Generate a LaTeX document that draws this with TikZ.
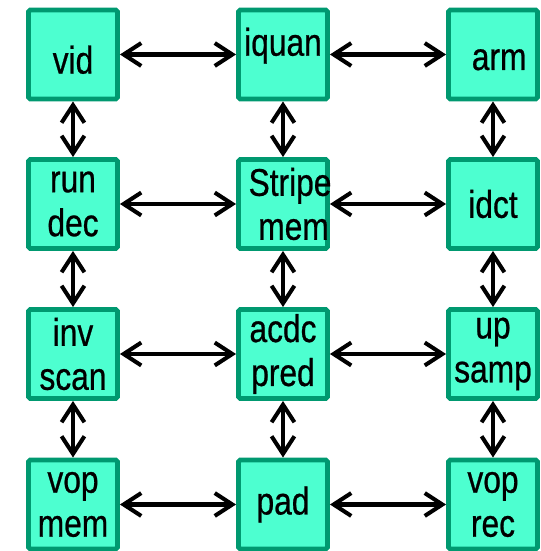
\documentclass[tikz,border=0pt]{standalone}
\usepackage{fontspec}
\setmainfont{Liberation Sans}[FakeStretch=0.82,FakeBold=0.6]
\usetikzlibrary{arrows.meta}
\definecolor{blkfill}{RGB}{77,255,208}
\definecolor{blkline}{RGB}{0,153,112}
% move a line of text sideways without changing its width
\newcommand\nudge[2]{\kern#1\relax#2\kern-#1\relax}

\begin{document}
\begin{tikzpicture}[x=1cm,y=1cm,
  blk/.style={draw=blkline,fill=blkfill,line width=2.8pt,rounded corners=1pt,
    minimum size=1.78cm,inner sep=0pt,align=center,
    font=\fontsize{22}{25}\selectfont},
  link/.style={{Straight Barb[length=10pt,width=13pt]}-{Straight Barb[length=10pt,width=13pt]},
    line width=2.3pt}]
  \useasboundingbox (0,0) rectangle (10.82,11.02);
  \foreach \name/\x/\y/\txt in {
      vid/1.46/9.93/{\raisebox{-3pt}[\height][\depth]{vid}},
      iquan/5.66/9.93/{\raisebox{5pt}[\height][\depth]{iquan}},
      arm/9.86/9.93/{\raisebox{-3pt}[\height][\depth]{\nudge{3.5pt}{arm}}},
      rundec/1.46/6.94/{run\\dec},
      stripe/5.66/6.94/{\nudge{4pt}{Stripe}\\\nudge{6pt}{mem}},
      idct/9.86/6.94/idct,
      invscan/1.46/3.94/{inv\\scan},
      acdc/5.66/3.94/{acdc\\pred},
      upsamp/9.86/3.94/{up\\samp},
      vopmem/1.46/0.93/{vop\\mem},
      pad/5.66/0.93/pad,
      voprec/9.86/0.93/{vop\\rec}}
    \node[blk] (\name) at (\x,\y) {\txt};
  % rows
  \foreach \a/\b in {vid/iquan,iquan/arm,rundec/stripe,stripe/idct,
      invscan/acdc,acdc/upsamp,vopmem/pad,pad/voprec}
    \draw[link] (\a) -- (\b);
  % columns
  \foreach \a/\b in {vid/rundec,rundec/invscan,invscan/vopmem,
      iquan/stripe,stripe/acdc,acdc/pad,
      arm/idct,idct/upsamp,upsamp/voprec}
    \draw[link] (\a) -- (\b);
\end{tikzpicture}
\end{document}
